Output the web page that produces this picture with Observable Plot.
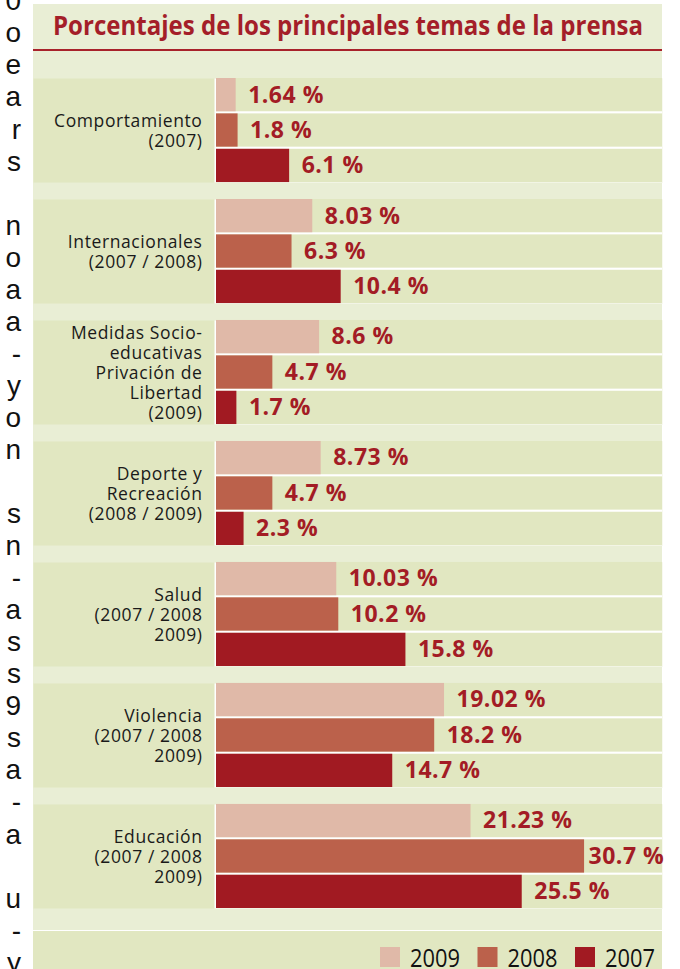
<!DOCTYPE html>
<html><head><meta charset="utf-8">
<script src="https://cdn.jsdelivr.net/npm/d3@7"></script>
<script src="https://cdn.jsdelivr.net/npm/@observablehq/plot@0.6"></script>
<style>
html,body{margin:0;padding:0;background:#fff;}
body{width:680px;height:969px;position:relative;overflow:hidden;font-family:"Open Sans",sans-serif;}
#margin{position:absolute;left:0;top:-14.7px;width:21px;text-align:right;font-family:"Liberation Sans",Arial,sans-serif;font-size:28px;line-height:32.05px;color:#111;white-space:pre;}
#panel{position:absolute;left:33px;top:4px;width:629px;background:#e9eed5;}
#title{height:45px;border-bottom:2px solid #a8222b;}
#title svg,#legend svg,#chart svg{display:block;}
#legend{height:38px;background:#e1e7c1;border-top:1px solid #fff;}
</style></head>
<body>
<div id="margin"></div>
<div id="panel">
  <div id="title"></div>
  <div id="chart"></div>
  <div id="legend"></div>
</div>
<script>
// ---- data ----
const marginText = ["0","o","e","a","r","s","","n","o","a","a","-","y","o","n","","s","n","-","a","s","s","9","s","a","-","a","","u","-","y"];
const titleText = "Porcentajes de los principales temas de la prensa";
const groups = ["Comportamiento", "Internacionales", "Medidas", "Deporte", "Salud", "Violencia", "Educación"];
const groupLabels = [
  "Comportamiento\n(2007)",
  "Internacionales\n(2007 / 2008)",
  "Medidas Socio-\neducativas\nPrivación de\nLibertad\n(2009)",
  "Deporte y\nRecreación\n(2008 / 2009)",
  "Salud\n(2007 / 2008\n2009)",
  "Violencia\n(2007 / 2008\n2009)",
  "Educación\n(2007 / 2008\n2009)"
];
const years = ["2009", "2008", "2007"];
const values2009 = [1.64, 8.03, 8.6, 8.73, 10.03, 19.02, 21.23];
const values2008 = [1.8, 6.3, 4.7, 4.7, 10.2, 18.2, 30.7];
const values2007 = [6.1, 10.4, 1.7, 2.3, 15.8, 14.7, 25.5];
const yearColors = ["#e0b9a8", "#bb614b", "#a11a22"];

// ---- styles ----
const bandDark = "#e1e7c1";
const labelRed = "#a31c25";

document.getElementById("margin").textContent = marginText.join("\n");

const series = [values2009, values2008, values2007];
const rows = [];
groups.forEach((g, i) => years.forEach((y, j) => rows.push({group: g, year: y, value: series[j][i]})));
const groupRows = groups.map((g, i) => ({group: g, label: groupLabels[i]}));
const maxValue = d3.max(rows, d => d.value);

// title
const tsvg = d3.select("#title").append("svg").attr("width", 629).attr("height", 45);
tsvg.append("text").attr("x", 20).attr("y", 31)
  .attr("textLength", 590).attr("lengthAdjust", "spacingAndGlyphs")
  .attr("fill", "#a41e29").attr("font-family", "Open Sans").attr("font-weight", 700).attr("font-size", 26)
  .text(titleText);

const labelStyle = {x: "value", y: "year", fy: "group", text: d => d.value + " %",
  textAnchor: "start", fill: labelRed, fontWeight: "bold", fontSize: 23, fontFamily: "Open Sans"};

// chart
const chart = Plot.plot({
  width: 629, height: 879,
  marginLeft: 183, marginRight: 0, marginTop: 27, marginBottom: 22,
  x: {domain: [0, 37.2], axis: null},
  y: {domain: years, paddingInner: 0.06, paddingOuter: 0, round: false, axis: null},
  fy: {domain: groups, paddingInner: 0.14, paddingOuter: 0, round: false, axis: null},
  color: {domain: years, range: yearColors},
  style: {background: "transparent", overflow: "visible"},
  marks: [
    Plot.frame({fill: bandDark, insetLeft: -183}),
    Plot.frame({fill: "#ffffff", insetLeft: -2}),
    Plot.cell(years, {y: d => d, fill: bandDark}),
    Plot.barX(rows, {x: "value", y: "year", fy: "group", fill: "year"}),
    Plot.text(rows.filter(d => d.value < maxValue), {...labelStyle, dx: 12}),
    Plot.text(rows.filter(d => d.value === maxValue), {...labelStyle, dx: 4}),
    Plot.text(groupRows, {fy: "group", text: "label", frameAnchor: "left", textAnchor: "end", dx: -14,
      fontSize: 17.5, lineHeight: 1.14, fill: "#1a1a1a", fontFamily: "Open Sans"})
  ]
});
document.getElementById("chart").appendChild(chart);
const textGroups = chart.querySelectorAll('g[aria-label="text"]');
if (textGroups[0]) textGroups[0].style.letterSpacing = "0.5px";
if (textGroups[1]) textGroups[1].style.letterSpacing = "0.5px";
if (textGroups[2]) textGroups[2].style.letterSpacing = "0.6px";

// legend
const lsvg = d3.select("#legend").append("svg").attr("width", 629).attr("height", 38);
years.forEach((y, i) => {
  const x0 = 347 + i * 97.5;
  lsvg.append("rect").attr("x", x0).attr("y", 16).attr("width", 20).attr("height", 20).attr("fill", yearColors[i]);
  lsvg.append("text").attr("x", x0 + 30).attr("y", 35.5).attr("textLength", 50).attr("lengthAdjust", "spacingAndGlyphs")
    .attr("font-family", "Open Sans").attr("font-size", 26).attr("fill", "#111").text(y);
});
</script>
</body></html>
